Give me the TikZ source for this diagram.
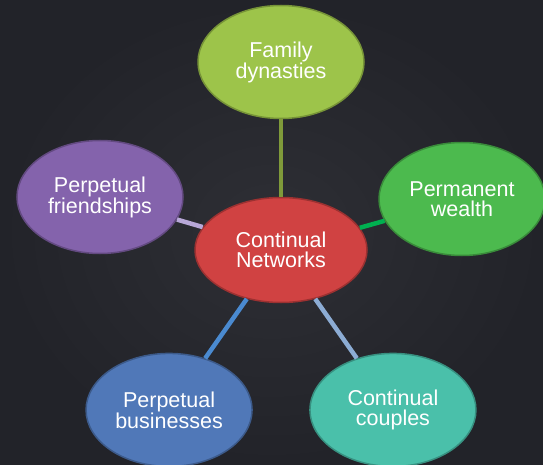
\documentclass[tikz,border=0pt]{standalone}
\usepackage{fontspec}
\setmainfont{Liberation Sans}
\usetikzlibrary{shapes.geometric, positioning}

\definecolor{bgdark}{HTML}{222329}
\definecolor{bgmid}{HTML}{2E2F35}
\definecolor{netred}{HTML}{D04242}
\definecolor{famgreen}{HTML}{9DC44A}
\definecolor{friviolet}{HTML}{8463AC}
\definecolor{weagreen}{HTML}{4CBA4E}
\definecolor{busblue}{HTML}{5078B8}
\definecolor{couteal}{HTML}{4AC0AA}

\tikzstyle{bubble} = [ellipse, draw, text centered, align=center, text=white, minimum width=166pt, minimum height=113pt, inner sep=0pt, line width=1.5pt, font=\fontsize{21.5}{20}\selectfont]
\tikzstyle{link} = [line width=4.5pt]

\begin{document}
\begin{tikzpicture}[x=1pt, y=1pt, node distance=188pt]

    % Background
    \useasboundingbox (0,0) rectangle (543,464);
    \shade [inner color=bgmid, outer color=bgdark] (0,0) rectangle (543,464);

    % Center
    \node (net) [bubble, fill=netred, draw=netred!75!black, minimum width=172pt, minimum height=105pt] at (281,214) {Continual\\Networks};

    % Outer ring
    \node (family) [bubble, fill=famgreen, draw=famgreen!75!black, above of=net] {Family\\dynasties};
    \node (friends) [bubble, fill=friviolet, draw=friviolet!75!black, left of=net, xshift=7pt, yshift=53pt] {Perpetual\\friendships};
    \node (wealth) [bubble, fill=weagreen, draw=weagreen!75!black, right of=net, xshift=-7pt, yshift=51pt] {Permanent\\wealth};
    \node (business) [bubble, fill=busblue, draw=busblue!75!black, below left of=net, xshift=21pt, yshift=-27pt] {Perpetual\\businesses};
    \node (couples) [bubble, fill=couteal, draw=couteal!75!black, below right of=net, xshift=-21pt, yshift=-27pt] {Continual\\couples};

    % ==== Links
    \draw [link, color={rgb,255:red,127;green,154;blue,58}] (net) -- (family);
    \draw [link, color={rgb,255:red,184;green,168;blue,216}] (net) -- (friends);
    \draw [link, color={rgb,255:red,0;green,176;blue,80}] (net) -- (wealth);
    \draw [link, color={rgb,255:red,74;green,138;blue,208}] (net) -- (business);
    \draw [link, color={rgb,255:red,140;green,172;blue,212}] (net) -- (couples);

\end{tikzpicture}
\end{document}
